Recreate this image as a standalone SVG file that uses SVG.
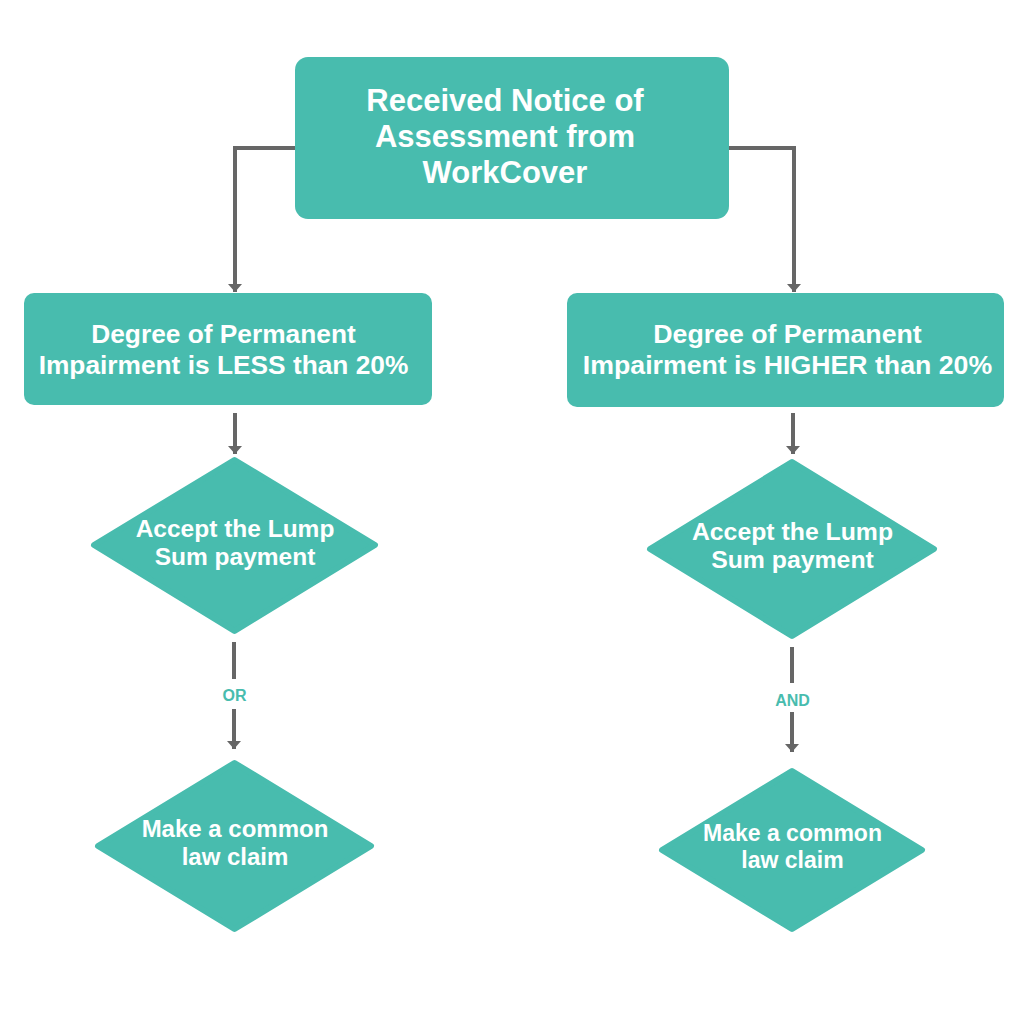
<svg xmlns="http://www.w3.org/2000/svg" width="1024" height="1024" viewBox="0 0 1024 1024">
<defs>
<style>
.box{fill:#48bcae}
.dia{fill:#48bcae;stroke:#48bcae;stroke-width:6;stroke-linejoin:round}
.t{font-family:"Liberation Sans",Arial,sans-serif;font-weight:bold;fill:#fff;text-anchor:middle}
.lbl{font-family:"Liberation Sans",Arial,sans-serif;font-weight:bold;fill:#48bcae;text-anchor:middle;font-size:16px}
.c{fill:none;stroke:#666;stroke-width:4}
</style>
<marker id="ad" viewBox="0 0 14 10" refX="7" refY="9" markerWidth="14" markerHeight="10" markerUnits="userSpaceOnUse" orient="0">
<path d="M0,1 L14,1 L7,9 Z" fill="#666"/>
</marker>
</defs>
<rect width="1024" height="1024" fill="#fff"/>
<g id="connectors">
<path class="c" d="M296,148 H235 V292" marker-end="url(#ad)"/>
<path class="c" d="M728,148 H794 V292" marker-end="url(#ad)"/>
<path class="c" d="M235,413 V454" marker-end="url(#ad)"/>
<path class="c" d="M793,413 V454" marker-end="url(#ad)"/>
<path class="c" d="M234,642 V679"/>
<path class="c" d="M234,709 V749" marker-end="url(#ad)"/>
<text class="lbl" x="234.5" y="701">OR</text>
<path class="c" d="M792,647 V683"/>
<path class="c" d="M792,712 V752" marker-end="url(#ad)"/>
<text class="lbl" x="792.5" y="706">AND</text>
</g>
<g id="n-notice">
<rect class="box" x="295" y="57" width="434" height="162" rx="13"/>
<text class="t" font-size="31" x="505" y="111">Received Notice of</text>
<text class="t" font-size="31" x="505" y="147">Assessment from</text>
<text class="t" font-size="31" x="505" y="183">WorkCover</text>
</g>
<g id="n-less">
<rect class="box" x="24" y="293" width="408" height="112" rx="10"/>
<text class="t" font-size="26.3" x="223.5" y="343">Degree of Permanent</text>
<text class="t" font-size="26.3" x="223.5" y="374">Impairment is LESS than 20%</text>
</g>
<g id="n-higher">
<rect class="box" x="567" y="293" width="437" height="114" rx="10"/>
<text class="t" font-size="26.7" x="787.5" y="343">Degree of Permanent</text>
<text class="t" font-size="26.7" x="787.5" y="374">Impairment is HIGHER than 20%</text>
</g>
<g id="n-lump-left">
<polygon class="dia" points="234.5,460 375,545 234.5,631 94,545"/>
<text class="t" font-size="24.5" x="235" y="537">Accept the Lump</text>
<text class="t" font-size="24.5" x="235" y="565">Sum payment</text>
</g>
<g id="n-lump-right">
<polygon class="dia" points="792,462 934,549 792,636 650,549"/>
<text class="t" font-size="24.8" x="792.5" y="540">Accept the Lump</text>
<text class="t" font-size="24.8" x="792.5" y="568">Sum payment</text>
</g>
<g id="n-claim-left">
<polygon class="dia" points="234.5,763 371,846 234.5,929 98,846"/>
<text class="t" font-size="24" x="235" y="837">Make a common</text>
<text class="t" font-size="24" x="235" y="865">law claim</text>
</g>
<g id="n-claim-right">
<polygon class="dia" points="792,771 922,850 792,929 662,850"/>
<text class="t" font-size="23" x="792.5" y="841">Make a common</text>
<text class="t" font-size="23" x="792.5" y="868">law claim</text>
</g>
</svg>
